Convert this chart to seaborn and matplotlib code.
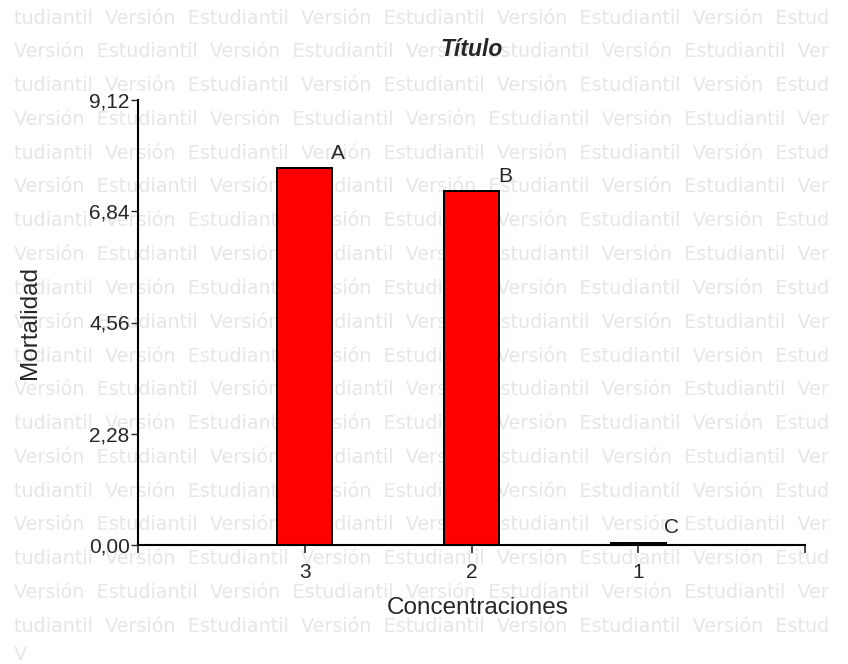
import pandas as pd
import seaborn as sns
from matplotlib import pyplot as plt

# data
concentraciones = ["3", "2", "1"]
mortalidad = [7.72, 7.25, 0.05]
letras = ["A", "B", "C"]
y_ticks = [0.0, 2.28, 4.56, 6.84, 9.12]

df = pd.DataFrame({"Concentraciones": concentraciones, "Mortalidad": mortalidad})

sns.set_style("white")
plt.rcParams["font.family"] = ["Liberation Sans", "DejaVu Sans"]

fig = plt.figure(figsize=(8.48, 6.64), dpi=100)
ax = fig.add_axes([138 / 848, 1 - 545 / 664, (805 - 138) / 848, (545 - 100) / 664])
ax.patch.set_alpha(0)

# watermark rows, behind the axes
row_a = "tudiantil  Versión  Estudiantil  Versión  Estudiantil  Versión  Estudiantil  Versión  Estud"
row_b = "Versión  Estudiantil  Versión  Estudiantil  Versión  Estudiantil  Versión  Estudiantil  Ver"
for i in range(19):
    y = 1 - (18 + i * 33.8) / 664
    fig.text(14 / 848, y, row_a if i % 2 == 0 else row_b, fontsize=13.8, color="#e6e6e6",
             family="DejaVu Sans", va="center", ha="left", zorder=-5)
fig.text(14 / 848, 1 - 655 / 664, "V", fontsize=13.8, color="#e6e6e6",
         family="DejaVu Sans", va="center", ha="left", zorder=-5)

sns.barplot(data=df, x="Concentraciones", y="Mortalidad", order=concentraciones, ax=ax,
            color="#ff0000", edgecolor="black", linewidth=1.4, width=0.33, saturation=1)

for i, (v, l) in enumerate(zip(mortalidad, letras)):
    ax.text(i + 0.2, v + 0.3, l, fontsize=15, ha="center", va="center")

ax.set_xlim(-1, 3)
ax.set_ylim(0, 9.12)
ax.set_yticks(y_ticks)
ax.set_yticklabels([f"{t:.2f}".replace(".", ",") for t in y_ticks], fontsize=15)
ax.set_xticks([-1, 0, 1, 2, 3])
ax.set_xticklabels(["", "3", "2", "1", ""], fontsize=15)
ax.tick_params(axis="y", direction="out", length=5, width=1, pad=1, left=True)
ax.tick_params(axis="x", direction="out", length=6, width=1.2, pad=7, bottom=True)

sns.despine(ax=ax, top=True, right=True)
for s in ["left", "bottom"]:
    ax.spines[s].set_linewidth(1.5)
    ax.spines[s].set_color("black")

ax.set_xlabel("Concentraciones", fontsize=17.5)
ax.set_ylabel("Mortalidad", fontsize=17.5)
ax.yaxis.set_label_coords(-0.145, 0.5)
ax.xaxis.set_label_coords(0.51, -0.117)
ax.set_title("Título", fontsize=16.5, fontweight="bold", fontstyle="italic", pad=32)

fig.savefig("out.png", dpi=100)
